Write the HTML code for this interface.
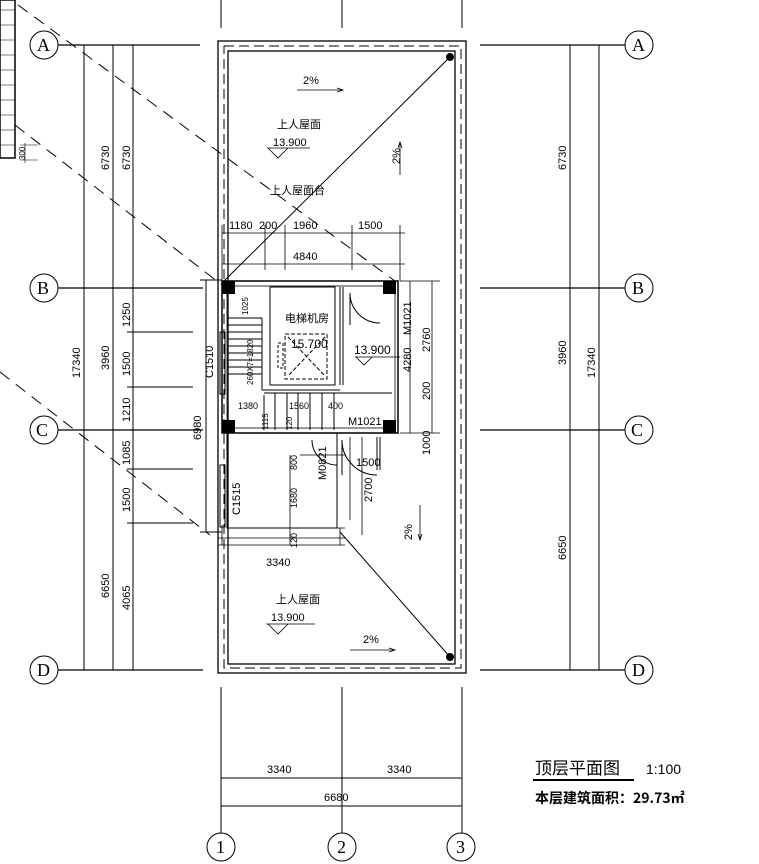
<!DOCTYPE html>
<html><head><meta charset="utf-8"><style>
html,body{margin:0;padding:0;background:#fff}
svg{display:block}
text{font-family:"Liberation Sans","Noto Sans CJK SC",sans-serif;fill:#000}
.c{font-family:"Noto Sans CJK SC","WenQuanYi Zen Hei",sans-serif}
.s{font-family:"Liberation Serif",serif}
</style></head><body>
<svg width="759" height="864" viewBox="0 0 759 864" xmlns="http://www.w3.org/2000/svg">
<g stroke="#000" fill="none" stroke-width="1">
<rect x="0" y="0" width="15" height="158" stroke-width="1.5"/>
<path d="M0 10 h15 M0 25 h15 M0 40 h15 M0 55 h15 M0 70 h15 M0 85 h15 M0 100 h15 M0 115 h15 M0 130 h15 M0 145 h15" stroke-width="0.6"/>
<path d="M20 145 h18 M25 143 v20 M20 160 h18" stroke-width="0.6"/>
<path d="M221 0 v28 M342 0 v28 M462 0 v28"/>
<path d="M58 45 H200 M480 45 H625 M58 288 H203 M480 288 H625 M58 430 H203 M480 430 H625 M58 670 H203 M480 670 H625" stroke-width="1.3"/>
<path d="M84 45 V670 M113 45 V670 M133 45 V670"/>
<path d="M127 332 H193 M127 387 H193 M127 469 H193 M127 523 H193"/>
<path d="M206 280 V532 M200 280 H222 M200 532 H222"/>
<path d="M570 45 V670 M599 45 V670"/>
<circle cx="44" cy="45" r="14"/><circle cx="44" cy="288" r="14"/><circle cx="44" cy="430" r="14"/><circle cx="44" cy="670" r="14"/>
<circle cx="639" cy="45" r="14"/><circle cx="639" cy="288" r="14"/><circle cx="639" cy="430" r="14"/><circle cx="639" cy="670" r="14"/>
<circle cx="221" cy="847" r="14"/><circle cx="342" cy="847" r="14"/><circle cx="461" cy="847" r="14"/>
<path d="M221 687 V833 M342 687 V833 M462 687 V833"/>
<path d="M221 778 H462 M221 806 H462"/>
<rect x="218" y="41" width="248" height="632" stroke-width="1.3"/>
<rect x="224" y="46" width="237" height="622" stroke-dasharray="10,5"/>
<rect x="228" y="51" width="227" height="613" stroke-width="1.3"/>
<path d="M222 283 L450 57 M340 532 L450 657"/>
<path d="M18 5 L395 281 M15 125 L222 285 M0 372 L210 535" stroke-dasharray="12,8"/>
<rect x="222" y="281" width="176" height="152" stroke-width="1.5"/>
<rect x="227" y="286" width="168" height="142" stroke-width="0.8"/>
<rect x="270" y="287" width="65" height="98"/>
<rect x="285" y="334" width="42" height="45" stroke-dasharray="4,2"/>
<path d="M288 337 L325 376 M325 337 L288 376" stroke-dasharray="4,2"/>
<rect x="278" y="343" width="5" height="25" stroke-dasharray="3,2"/>
<path d="M340 287 V385 M343 287 V385"/>
<path d="M350 293 A30 30 0 0 0 380 323 M350 293 V325"/>
<path d="M264 393 H392 M264 395 V430 M275 393 V430 M287 393 V430 M298 393 V430 M310 393 V430 M322 393 V430 M334 393 V430"/>
<path d="M228 318 H262 M228 325 H262 M228 332 H262 M228 339 H262 M228 346 H262 M228 353 H262 M228 360 H262 M228 367 H262 M228 374 H262 M262 318 V390 M262 390 H340"/>
<rect x="220" y="332" width="5" height="62"/>
<rect x="227" y="433" width="110" height="95" stroke-width="1"/>
<rect x="220" y="465" width="5" height="62"/>
<path d="M342 440 A35 35 0 0 0 377 475 M342 440 V475 M377 437 V470 M380 437 V470"/>
<path d="M312 440 A25 25 0 0 0 337 465"/>
<path d="M218 538 H345 M218 545 H345" stroke-width="0.8"/>
</g>
<g fill="#000">
<rect x="222" y="281" width="13" height="13"/><rect x="383" y="281" width="13" height="13"/>
<rect x="222" y="420" width="13" height="13"/><rect x="383" y="420" width="13" height="13"/>
<circle cx="450" cy="57" r="4"/><circle cx="450" cy="657" r="4"/>
</g>
<g stroke="#000" fill="none" stroke-width="0.8">
<path d="M222 233 H405 M222 264 H405 M222 225 V281 M265 225 V270 M285 225 V270 M352 225 V270 M400 225 V281"/>
<path d="M410 281 V433 M432 281 V433 M400 281 H440 M400 433 H440 M410 383 V395"/>
<path d="M350 437 V520 M362 437 V535 M300 455 H345 M300 528 H345 M290 455 V545"/>
<path d="M222 525 V545 M340 528 V545"/>
<path d="M297 90 H343 M337 88 L343 90 L337 92"/>
<path d="M400 142 V175 M398 148 L400 142 L402 148"/>
<path d="M420 505 V540 M418 534 L420 540 L422 534"/>
<path d="M350 650 H395 M389 648 L395 650 L389 652"/>
<path d="M267 148 H310 M268 148 L278 158 L288 148"/>
<path d="M266 624 H315 M268 624 L278 634 L288 624"/>
<path d="M355 357 H400 M356 357 L364 365 L372 357"/>
<path d="M533 780 H634" stroke-width="2"/>
</g>
<g font-size="11">
<text x="311" y="84" text-anchor="middle">2%</text>
<text x="277" y="128" class="c">上人屋面</text>
<text x="273" y="146">13.900</text>
<text x="270" y="194" class="c">上人屋面台</text>
<text x="229" y="229">1180</text><text x="259" y="229">200</text><text x="293" y="229">1960</text><text x="358" y="229">1500</text>
<text x="293" y="260">4840</text>
<text x="285" y="322" class="c" font-size="11">电梯机房</text>
<text x="291" y="348" font-size="12">15.700</text>
<text x="354" y="354" font-size="12">13.900</text>
<text x="348" y="425">M1021</text>
<text x="238" y="409" font-size="9">1380</text><text x="289" y="409" font-size="9">1560</text><text x="328" y="409" font-size="9">400</text>
<text x="271" y="621">13.900</text>
<text x="276" y="603" class="c">上人屋面</text>
<text x="363" y="643">2%</text>
<text x="266" y="566">3340</text>
<text x="267" y="773">3340</text><text x="387" y="773">3340</text>
<text x="324" y="801">6680</text>
</g>
<g font-size="11">
<text transform="translate(109,170) rotate(-90)">6730</text>
<text transform="translate(130,170) rotate(-90)">6730</text>
<text transform="translate(566,170) rotate(-90)">6730</text>
<text transform="translate(80,378) rotate(-90)">17340</text>
<text transform="translate(109,370) rotate(-90)">3960</text>
<text transform="translate(130,327) rotate(-90)">1250</text>
<text transform="translate(130,376) rotate(-90)">1500</text>
<text transform="translate(130,422) rotate(-90)">1210</text>
<text transform="translate(130,465) rotate(-90)">1085</text>
<text transform="translate(130,512) rotate(-90)">1500</text>
<text transform="translate(109,598) rotate(-90)">6650</text>
<text transform="translate(130,610) rotate(-90)">4065</text>
<text transform="translate(201,440) rotate(-90)">6980</text>
<text transform="translate(213,378) rotate(-90)">C1510</text>
<text transform="translate(240,515) rotate(-90)">C1515</text>
<text transform="translate(566,560) rotate(-90)">6650</text>
<text transform="translate(595,378) rotate(-90)">17340</text>
<text transform="translate(566,365) rotate(-90)">3960</text>
<text transform="translate(411,335) rotate(-90)">M1021</text>
<text transform="translate(411,372) rotate(-90)">4280</text>
<text transform="translate(430,352) rotate(-90)">2760</text>
<text transform="translate(430,400) rotate(-90)">200</text>
<text transform="translate(430,455) rotate(-90)">1000</text>
<text transform="translate(372,502) rotate(-90)">2700</text>
<text transform="translate(326,480) rotate(-90)">M0821</text>
<text transform="translate(400,164) rotate(-90)">2%</text>
<text transform="translate(412,540) rotate(-90)">2%</text>
<text transform="translate(297,470) rotate(-90)" font-size="9">800</text>
<text transform="translate(297,508) rotate(-90)" font-size="9">1680</text>
<text transform="translate(297,548) rotate(-90)" font-size="9">120</text>
<text transform="translate(248,315) rotate(-90)" font-size="8">1025</text>
<text transform="translate(253,385) rotate(-90)" font-size="8">260X7=1820</text>
<text transform="translate(268,430) rotate(-90)" font-size="8">1115</text>
<text transform="translate(292,430) rotate(-90)" font-size="8">120</text>
</g>
<text x="356" y="466" font-size="11">1500</text>
<g font-size="18">
<text class="s" x="37" y="51">A</text><text class="s" x="37" y="294">B</text><text class="s" x="36" y="436">C</text><text class="s" x="37" y="676">D</text>
<text class="s" x="632" y="51">A</text><text class="s" x="632" y="294">B</text><text class="s" x="631" y="436">C</text><text class="s" x="632" y="676">D</text>
<text class="s" x="216" y="853">1</text><text class="s" x="337" y="853">2</text><text class="s" x="456" y="853">3</text>
</g>
<text x="25" y="160" font-size="8" transform="rotate(-90 25 160)">300</text>
<text x="535" y="774" class="c" font-size="17">顶层平面图</text>
<text x="646" y="774" font-size="14" fill="#444">1:100</text>
<text x="535" y="803" class="c" font-size="14" font-weight="bold">本层建筑面积：29.73㎡</text>
</svg>
</body></html>
